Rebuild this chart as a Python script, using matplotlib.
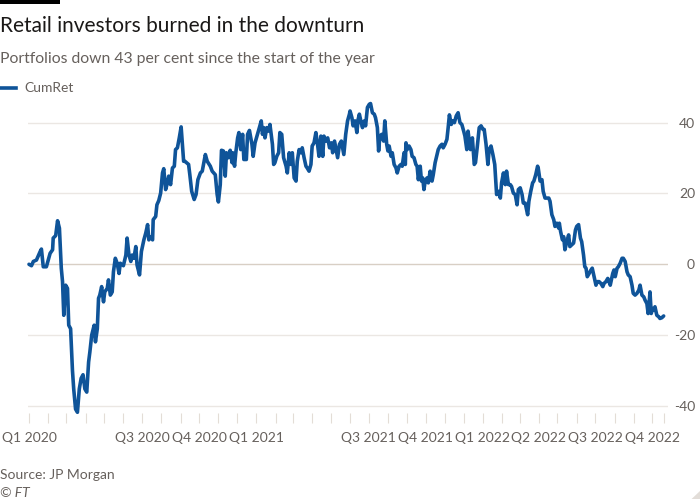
import matplotlib.pyplot as plt
import matplotlib.dates as mdates
import pandas as pd
from matplotlib.lines import Line2D
from matplotlib.patches import Rectangle, Polygon

# days since 2020-01-01
days = [0, 4, 7, 12, 18, 20, 23, 28, 34, 38, 39, 43, 46, 49, 52, 54, 56, 59, 62, 64,
        67, 70, 72, 75, 78, 81, 84, 87, 90, 93, 96, 98, 101, 105, 107, 110, 112, 114, 117, 120,
        122, 126, 128, 131, 134, 136, 139, 142, 145, 147, 152, 156, 158, 161, 164, 166, 169, 172, 174, 178,
        181, 185, 188, 191, 193, 196, 199, 200, 204, 206, 209, 212, 215, 217, 220, 223, 225, 228, 231, 234,
        236, 239, 242, 245, 249,
        251, 257, 259, 262, 266, 269, 272, 276, 279, 284, 287, 292, 295, 300, 303, 305, 308, 310, 313, 316,
        318, 321, 324, 327, 328, 331, 333, 336, 338, 341, 344, 346, 350, 352, 355, 359, 361, 364, 368, 371,
        374, 376, 378, 380, 383, 386, 388, 392, 394, 396, 399, 402, 404, 407, 410, 414, 416, 419, 422, 424,
        427, 430, 432, 435, 438, 440, 443, 446, 448, 451, 454, 456, 459, 462, 465, 467, 470, 473, 475, 478,
        481, 484, 487, 489, 492, 495, 497, 500, 503, 505, 507, 510, 513, 516,
        517, 520, 522, 525, 528, 530, 532, 535, 537, 540, 542, 545, 548, 550, 553, 556, 558, 561, 563, 565,
        568, 571, 573, 576, 578, 580, 583, 585, 588, 591, 593, 596, 599, 601, 604, 606, 607, 609, 612, 615,
        617, 620, 623, 625, 627, 630, 632, 634, 636, 638, 641, 643, 646, 649, 651, 654, 657, 659, 662, 665,
        667, 670, 673, 675, 677, 680, 682, 685, 688, 691, 694, 697, 700, 702, 705, 707, 709, 711, 714, 717,
        719, 722, 725, 728, 731, 733, 736, 739, 741, 744, 747, 750, 752, 753, 756, 759, 761, 764, 767, 769,
        772, 775, 777, 780,
        783, 786, 788, 791, 794, 796, 799, 802, 803, 805, 808, 811, 813, 816, 819, 820, 823, 826, 828, 831,
        834, 837, 839, 842, 845, 847, 850, 853, 854, 856, 859, 861, 863, 866, 869, 871, 874, 877, 880, 882,
        885, 888, 890, 893, 895, 897, 899, 902, 905, 907, 910, 913, 915, 918, 921, 924, 926, 929, 932, 934,
        936, 940, 942, 944, 947, 949, 952, 955, 957, 960, 963, 965, 968, 971, 973, 976, 979, 982, 984, 987,
        990, 992, 995, 997, 999, 1000, 1002, 1004, 1006, 1008, 1011, 1014, 1016, 1019, 1022]

cumret = [0.0, -0.4, 0.8, 1.2, 3.6, 4.3, -0.7, -0.7, 3.1, 4.1, 7.4, 8.1, 12.3, 10.2, -1.1, -4.9, -14.4, -5.9, -6.8, -17.2,
          -18.2, -30.0, -35.2, -40.9, -41.8, -35.2, -32.2, -31.2, -35.2, -36.1, -27.6, -24.8, -20.0, -17.2, -21.9, -18.2, -9.6, -8.7, -6.3, -10.6,
          -7.8, -6.8, -4.4, -8.7, -7.8, -2.1, 1.7, 0.3, -2.6, 0.3, -0.4, 2.6, 7.4, 2.6, 0.8, 2.6, 1.7, 5.0, -0.2, -3.0,
          3.6, 6.9, 8.8, 11.2, 6.9, 7.8, 6.9, 12.6, 13.5, 16.8, 18.0, 20.1, 25.8, 27.0, 21.1, 23.0, 24.9, 22.5, 27.2, 27.7,
          32.4, 32.9, 35.7, 38.8, 29.1,
          29.1, 28.2, 25.3, 20.6, 18.3, 19.7, 23.9, 25.8, 26.3, 31.0, 29.1, 27.7, 26.3, 25.3, 19.7, 17.6, 22.5, 32.2, 32.0, 24.9,
          31.5, 30.1, 32.2, 28.7, 31.5, 27.7, 31.5, 35.7, 37.2, 32.4, 36.7, 29.6, 29.6, 36.7, 37.8, 33.9, 30.5, 34.3, 36.7, 38.6,
          40.5, 36.7, 38.6, 35.7, 38.6, 37.6, 39.5, 33.9, 28.2, 28.7, 30.5, 31.5, 37.2, 36.7, 30.1, 27.7, 25.8, 31.5, 28.2, 31.5,
          24.4, 23.5, 29.1, 32.4, 31.5, 32.9, 30.1, 27.7, 27.2, 26.3, 28.2, 33.4, 34.3, 37.2, 33.4, 30.5, 36.2, 30.5, 36.2, 34.8,
          35.7, 32.9, 34.3, 31.5, 34.8, 32.0, 30.1, 33.9, 34.8, 32.9, 31.0, 36.7, 40.5, 42.4,
          43.3, 41.4, 39.1, 40.5, 37.2, 40.9, 42.4, 40.0, 38.6, 40.5, 39.1, 44.3, 45.2, 45.4, 42.8, 42.4, 41.4, 38.6, 32.0, 36.2,
          36.7, 34.8, 40.5, 33.9, 32.0, 33.4, 30.5, 31.5, 28.2, 27.2, 25.8, 27.7, 28.2, 27.7, 31.5, 28.2, 34.3, 32.4, 33.4, 32.4,
          30.5, 30.1, 28.2, 27.7, 23.9, 27.7, 23.5, 24.4, 21.1, 23.5, 24.4, 23.0, 26.3, 23.5, 25.3, 28.7, 31.0, 32.4, 33.4, 33.9,
          32.9, 33.9, 35.3, 38.6, 42.2, 39.5, 40.5, 40.0, 41.9, 42.8, 40.0, 39.5, 37.6, 36.2, 32.4, 37.6, 34.8, 32.4, 35.7, 28.2,
          28.7, 33.4, 38.6, 39.1, 38.1, 38.1, 33.9, 28.2, 32.4, 33.4, 31.0, 28.2, 22.5, 19.7, 20.6, 18.7, 23.0, 25.8, 22.5, 26.3,
          22.5, 22.5, 22.0, 20.1,
          19.7, 16.8, 21.1, 21.6, 19.7, 17.3, 17.3, 14.9, 14.0, 17.8, 20.6, 23.0, 23.5, 25.3, 27.7, 27.2, 23.5, 23.9, 20.6, 18.7,
          18.7, 18.7, 17.8, 14.0, 12.6, 10.7, 11.6, 10.2, 11.6, 9.3, 6.9, 7.8, 4.1, 6.4, 8.3, 5.0, 5.5, 6.0, 9.7, 10.7,
          11.2, 7.4, 6.4, 2.6, -0.7, -1.1, -3.5, -2.6, -1.6, -1.1, -3.5, -5.9, -4.9, -4.9, -5.4, -6.3, -5.4, -4.9, -4.0, -4.9,
          -5.9, -2.6, -1.6, -3.5, -1.1, -0.7, 0.3, 1.7, 1.7, 0.8, -2.1, -3.0, -3.5, -5.9, -8.2, -8.7, -8.2, -7.3, -5.9, -8.7,
          -9.2, -10.1, -11.1, -13.9, -10.1, -7.8, -13.9, -12.5, -13.0, -12.0, -14.4, -14.8, -15.3, -15.1, -14.6]

quarter_starts = ["2020-01-01", "2020-07-01", "2020-10-01", "2021-01-01", "2021-07-01",
                  "2021-10-01", "2022-01-01", "2022-04-01", "2022-07-01", "2022-10-01"]
quarter_labels = ["Q1 2020", "Q3 2020", "Q4 2020", "Q1 2021", "Q3 2021",
                  "Q4 2021", "Q1 2022", "Q2 2022", "Q3 2022", "Q4 2022"]
y_ticks = [-40, -20, 0, 20, 40]

start = pd.Timestamp("2020-01-01")
dates = start + pd.to_timedelta(days, unit="D")

plt.rcParams["font.family"] = ["Lato", "DejaVu Sans"]
plt.rcParams["axes.unicode_minus"] = False

text_grey = "#66605c"
ft_blue = "#0f5499"

fig = plt.figure(figsize=(7, 5), dpi=100)
fig.patch.set_facecolor("white")
ax = fig.add_axes([28 / 700, 87 / 500, 640 / 700, 313 / 500])

for y in y_ticks:
    ax.axhline(y, color="#d8cfc5" if y == 0 else "#ebe7e3", lw=1, zorder=1)

ax.plot(dates, cumret, color=ft_blue, lw=2.6, solid_joinstyle="round",
        solid_capstyle="round", clip_on=False, zorder=3)

ax.set_xlim(start - pd.Timedelta(days=1.6), start + pd.Timedelta(days=1029))
ax.set_ylim(-42.0, 46.4)

for s in ax.spines.values():
    s.set_visible(False)

# monthly ticks plus one at the last date
month_ticks = list(pd.date_range("2020-01-01", "2022-10-01", freq="MS")) + [dates[-1]]
ax.set_xticks(month_ticks)
ax.set_xticklabels([])
ax.tick_params(axis="x", length=7.5, width=0.8, color="#e3ddd6", direction="out")

for q, lab in zip(quarter_starts, quarter_labels):
    ax.text(pd.Timestamp(q), -0.093, lab, transform=ax.get_xaxis_transform(),
            ha="center", va="baseline", fontsize=10, color=text_grey)

ax.yaxis.tick_right()
ax.set_yticks(y_ticks)
ax.set_yticklabels([str(v) for v in y_ticks], fontsize=10, color=text_grey)
ax.tick_params(axis="y", length=0, pad=19.5)
for lab in ax.get_yticklabels():
    lab.set_horizontalalignment("right")

# header
fig.add_artist(Rectangle((0, 1 - 4 / 500), 60 / 700, 4 / 500, transform=fig.transFigure,
                         color="black", lw=0))
fig.text(0, 1 - 32 / 500, "Retail investors burned in the downturn", fontsize=15,
         color="#1a1817", va="baseline", ha="left")
fig.text(0, 1 - 63 / 500, "Portfolios down 43 per cent since the start of the year",
         fontsize=11.3, color=text_grey, va="baseline", ha="left")

# legend
fig.add_artist(Line2D([0, 16 / 700], [1 - 87.5 / 500, 1 - 87.5 / 500], transform=fig.transFigure,
                      color=ft_blue, lw=2.6))
fig.text(24 / 700, 1 - 87.5 / 500, "CumRet", fontsize=10, color=text_grey, va="center", ha="left")

# footer
fig.text(0, 1 - 479 / 500, "Source: JP Morgan", fontsize=10, color=text_grey, va="baseline")
fig.text(0, 1 - 497 / 500, "© FT", fontsize=10, color=text_grey, va="baseline", style="italic")
fig.add_artist(Polygon([[1.0, 0.002], [0.988, 0.002], [1.0, 0.018]], closed=True,
                       transform=fig.transFigure, color="#e2ddd8", lw=0))

fig.savefig("out.png", dpi=100)
